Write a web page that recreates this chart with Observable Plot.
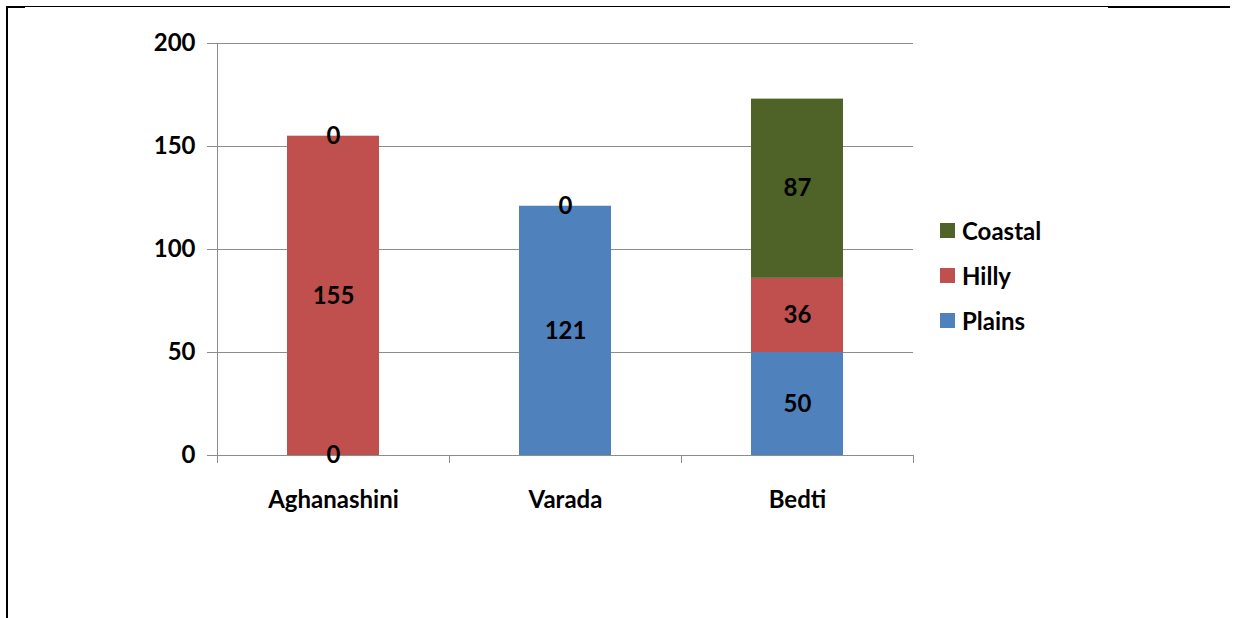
<!DOCTYPE html>
<html><head><meta charset="utf-8">
<script src="https://cdn.jsdelivr.net/npm/d3@7"></script>
<script src="https://cdn.jsdelivr.net/npm/@observablehq/plot@0.6"></script>
<style>
body{margin:0;background:#fff;}
#wrap{position:relative;width:1239px;height:618px;overflow:hidden;font-family:Lato,"Open Sans",sans-serif;}
#wrap svg{position:absolute;left:0;top:0;}
.legend{position:absolute;left:940px;top:0;font:bold 24px Lato,"Open Sans",sans-serif;color:#000;}
.legend .item{position:absolute;left:0;white-space:nowrap;display:flex;align-items:center;height:30px;}
.legend .sw{width:15px;height:15px;margin-right:7px;}
.line{position:absolute;background:#000;}
</style></head><body><div id="wrap"></div>
<script>
const rivers = ["Aghanashini", "Varada", "Bedti"];
const series = ["Plains", "Hilly", "Coastal"];
const plains = [0, 121, 50];
const hilly = [155, null, 36];
const coastal = [0, 0, 87];
const colors = ["#4F81BD", "#C0504D", "#4F6228"];
const yTicks = [0, 50, 100, 150, 200];

const values = {Plains: plains, Hilly: hilly, Coastal: coastal};
const data = [];
rivers.forEach((r, i) => {
  series.forEach(s => {
    const v = values[s][i];
    if (v != null) data.push({river: r, series: s, value: v});
  });
});

const axisLines = (index, scales, vals, dims) => {
  const g = d3.create("svg:g").attr("stroke", "#8c8c8c").attr("stroke-width", 1);
  const y0 = scales.y(0), yTop = scales.y(200);
  const xs = rivers.map(r => scales.x(r));
  xs.push(dims.width - dims.marginRight);
  xs.forEach(x => {
    g.append("line").attr("x1", x + 0.5).attr("x2", x + 0.5).attr("y1", y0).attr("y2", y0 + 8);
  });
  g.append("line").attr("x1", dims.marginLeft + 0.5).attr("x2", dims.marginLeft + 0.5).attr("y1", yTop).attr("y2", y0);
  return g.node();
};

const chart = Plot.plot({
  width: 1239, height: 618,
  marginLeft: 217, marginRight: 326, marginTop: 43, marginBottom: 163,
  style: {fontFamily: "Lato, 'Open Sans', sans-serif", fontWeight: "bold", fontSize: "24px", color: "#000", background: "transparent"},
  x: {type: "band", domain: rivers, padding: 0},
  y: {domain: [0, 200]},
  color: {domain: series, range: colors},
  marks: [
    Plot.gridY(yTicks, {stroke: "#8c8c8c", strokeOpacity: 1}),
    Plot.axisY(yTicks, {tickSize: 10, tickPadding: 12, stroke: "#8c8c8c", fill: "#000", fontSize: 24, fontWeight: "bold", label: null}),
    Plot.axisX({tickSize: 0, tickPadding: 35, fill: "#000", fontSize: 24, fontWeight: "bold", label: null}),
    Plot.barY(data, {x: "river", y: "value", fill: "series", insetLeft: 70, insetRight: 70}),
    axisLines,
    Plot.text(data, Plot.stackY({x: "river", y: "value", text: d => String(d.value), fontSize: 24, fontWeight: "bold", fill: "#000"}))
  ]
});

const wrap = document.getElementById("wrap");
wrap.appendChild(chart);

const legend = document.createElement("div");
legend.className = "legend";
const legendTops = {Coastal: 215, Hilly: 260, Plains: 305};
series.slice().reverse().forEach(s => {
  const item = document.createElement("div");
  item.className = "item";
  item.style.top = legendTops[s] + "px";
  const sw = document.createElement("div");
  sw.className = "sw";
  sw.style.background = colors[series.indexOf(s)];
  item.appendChild(sw);
  item.appendChild(document.createTextNode(s));
  legend.appendChild(item);
});
wrap.appendChild(legend);

// page frame lines
[[6, 6, 1102, 1], [1108, 6, 122, 2], [6, 6, 19, 2], [6, 6, 2, 612]].forEach(([l, t, w, h]) => {
  const d = document.createElement("div");
  d.className = "line";
  Object.assign(d.style, {left: l + "px", top: t + "px", width: w + "px", height: h + "px"});
  wrap.appendChild(d);
});
</script></body></html>
